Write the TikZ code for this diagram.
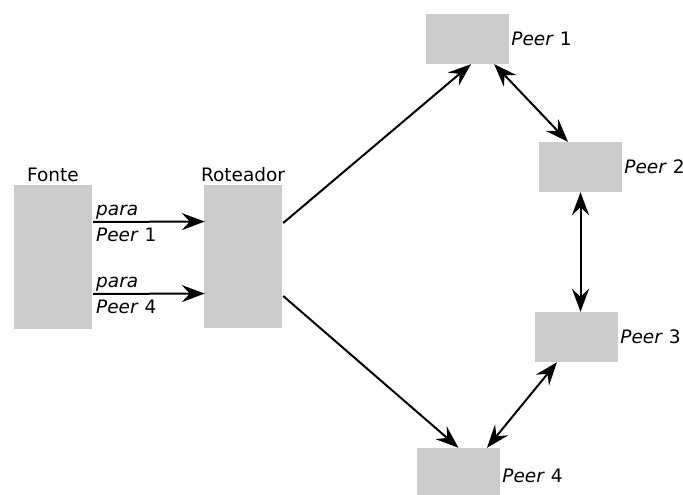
\documentclass[tikz,border=0pt]{standalone}
\usepackage{fontspec}
\setmainfont{DejaVu Sans}
\usepackage{tikz}
\usetikzlibrary{arrows.meta}

\tikzset{
  caixa/.style={fill=gray!40, draw=none, inner sep=0pt},
  peer/.style={caixa, minimum width=83pt, minimum height=50pt},
  seta/.style={line width=2pt, -{Stealth[length=23pt, width=17pt, inset=8pt]}},
  setadupla/.style={line width=2pt, {Stealth[length=23pt, width=17pt, inset=8pt]}-{Stealth[length=23pt, width=17pt, inset=8pt]}},
  rotulo/.style={inner sep=0pt, label distance=2pt}
}

\begin{document}
\begin{tikzpicture}[x=1pt, y=-1pt, font=\fontsize{18.5}{22}\selectfont]
   \useasboundingbox (0,0) rectangle (683,495);

   % origem e roteador
   \node[caixa, minimum width=78pt, minimum height=144pt,
         label={[rotulo, label distance=3pt]above:Fonte}] (fonte) at (53,257) {};
   \node[caixa, minimum width=78pt, minimum height=143pt,
         label={[rotulo, label distance=3pt]above:Roteador}] (rot) at (243,256.5) {};

   % os quatro peers
   \node[peer, label={[rotulo]right:\textit{Peer} 1}] (p1) at (467.5,39) {};
   \node[peer, label={[rotulo]right:\textit{Peer} 2}] (p2) at (580.5,167) {};
   \node[peer, label={[rotulo]right:\textit{Peer} 3}] (p3) at (576.5,337) {};
   \node[peer, minimum height=48pt,
         label={[rotulo, yshift=-4pt]right:\textit{Peer} 4}] (p4) at (458.5,472) {};

   % fonte -> roteador
   \draw[seta] ([xshift=1pt, yshift=35pt]fonte.east)
      node[anchor=south west, inner sep=2pt] {\textit{para}}
      node[anchor=north west, inner sep=2pt, yshift=-3pt] {\textit{Peer} 1}
      -- ([xshift=1pt, yshift=35pt]rot.west);
   \draw[seta] ([xshift=1pt, yshift=-37pt]fonte.east)
      node[anchor=south west, inner sep=2pt] {\textit{para}}
      node[anchor=north west, inner sep=2pt, yshift=-3pt] {\textit{Peer} 4}
      -- ([xshift=1pt, yshift=-37pt]rot.west);

   % roteador -> peers
   \draw[seta] ([xshift=1pt, yshift=33.5pt]rot.east) -- ([xshift=3.5pt]p1.south);
   \draw[seta] ([xshift=1pt, yshift=-39.5pt]rot.east) -- (p4.north);

   % ligacoes entre peers
   \draw[setadupla] ([xshift=-15pt]p1.south east) -- ([xshift=-12.5pt]p2.north);
   \draw[setadupla] (p2.south) -- (p2.south |- p3.north);
   \draw[setadupla] ([xshift=-19.5pt]p3.south) -- ([xshift=28.5pt]p4.north);
\end{tikzpicture}
\end{document}
